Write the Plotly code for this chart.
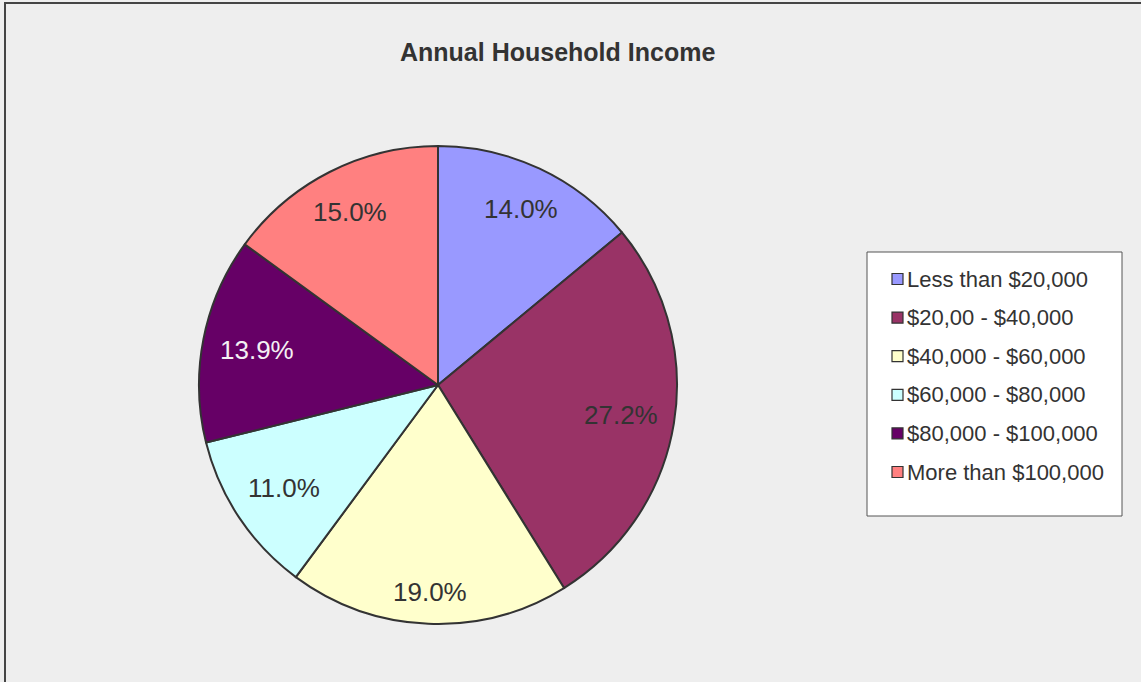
import math
import plotly.graph_objects as go

# Income brackets and their share of households (%)
categories = [
    "Less than $20,000",
    "$20,00 - $40,000",
    "$40,000 - $60,000",
    "$60,000 - $80,000",
    "$80,000 - $100,000",
    "More than $100,000",
]
shares = [14.0, 27.2, 19.0, 11.0, 13.9, 15.0]
slice_colors = ["#9999FF", "#993366", "#FFFFCC", "#CCFFFF", "#660066", "#FF8080"]
label_colors = ["#333333", "#333333", "#333333", "#333333", "#F4F0F4", "#333333"]

W, H = 1141, 682
FONT = "Liberation Sans, Arial, sans-serif"

# pie placement in pixels (centre and radius), converted to a paper domain
cx, cy, r = 438, 385, 239
dom_x = [(cx - r) / W, (cx + r) / W]
dom_y = [(H - cy - r) / H, (H - cy + r) / H]

fig = go.Figure(
    go.Pie(
        labels=categories,
        values=shares,
        sort=False,
        direction="clockwise",
        rotation=0,
        marker=dict(colors=slice_colors, line=dict(color="#333333", width=2)),
        textinfo="none",
        domain=dict(x=dom_x, y=dom_y),
        showlegend=False,
        hoverinfo="label+percent",
    )
)

shapes = [
    # outer chart frame
    dict(type="rect", xref="paper", yref="paper",
         x0=5 / W, x1=1.02, y0=-0.02, y1=1 - 3 / H,
         line=dict(color="#444444", width=2), fillcolor="rgba(0,0,0,0)", layer="below"),
]
annotations = [
    dict(text="<b>Annual Household Income</b>", x=557 / W, y=1 - 52 / H,
         xref="paper", yref="paper", showarrow=False, xanchor="center", yanchor="middle",
         font=dict(family=FONT, size=25, color="#333333")),
]

# percentage labels: placed on each slice's bisector, pushed out so the
# text box sits just inside the rim
LABEL_SIZE = 26
half_w, half_h, rim = 37, 15, 224
total = sum(shares)
cum = 0.0
for v, col in zip(shares, label_colors):
    theta = 2 * math.pi * (cum + v / 2) / total
    cum += v
    s, c = math.sin(theta), math.cos(theta)
    rc = rim - (abs(s) * half_w + abs(c) * half_h)
    px, py = cx + rc * s, cy - rc * c
    annotations.append(dict(text=f"{v:.1f}%", x=px / W, y=1 - py / H,
                            xref="paper", yref="paper", showarrow=False,
                            xanchor="center", yanchor="middle",
                            font=dict(family=FONT, size=LABEL_SIZE, color=col)))

# legend box drawn as a framed list of swatches and labels
lx0, lx1, ly0, ly1 = 867, 1122, 252, 516
shapes.append(dict(type="rect", xref="paper", yref="paper",
                   x0=lx0 / W, x1=lx1 / W, y0=1 - ly1 / H, y1=1 - ly0 / H,
                   line=dict(color="#555555", width=1), fillcolor="white"))
row0, step, sw = 279, 38.6, 11
for i, (name, col) in enumerate(zip(categories, slice_colors)):
    yc = row0 + i * step
    shapes.append(dict(type="rect", xref="paper", yref="paper",
                       x0=892 / W, x1=(892 + sw) / W,
                       y0=1 - (yc + sw / 2) / H, y1=1 - (yc - sw / 2) / H,
                       line=dict(color="#333333", width=1.2), fillcolor=col))
    annotations.append(dict(text=name, x=905 / W, y=1 - yc / H, xref="paper", yref="paper",
                            showarrow=False, xanchor="left", yanchor="middle",
                            font=dict(family=FONT, size=22, color="#333333")))

fig.update_layout(
    width=W, height=H,
    margin=dict(l=0, r=0, t=0, b=0),
    paper_bgcolor="#EEEEEE",
    plot_bgcolor="#EEEEEE",
    shapes=shapes,
    annotations=annotations,
)

fig.write_html("out.html")
